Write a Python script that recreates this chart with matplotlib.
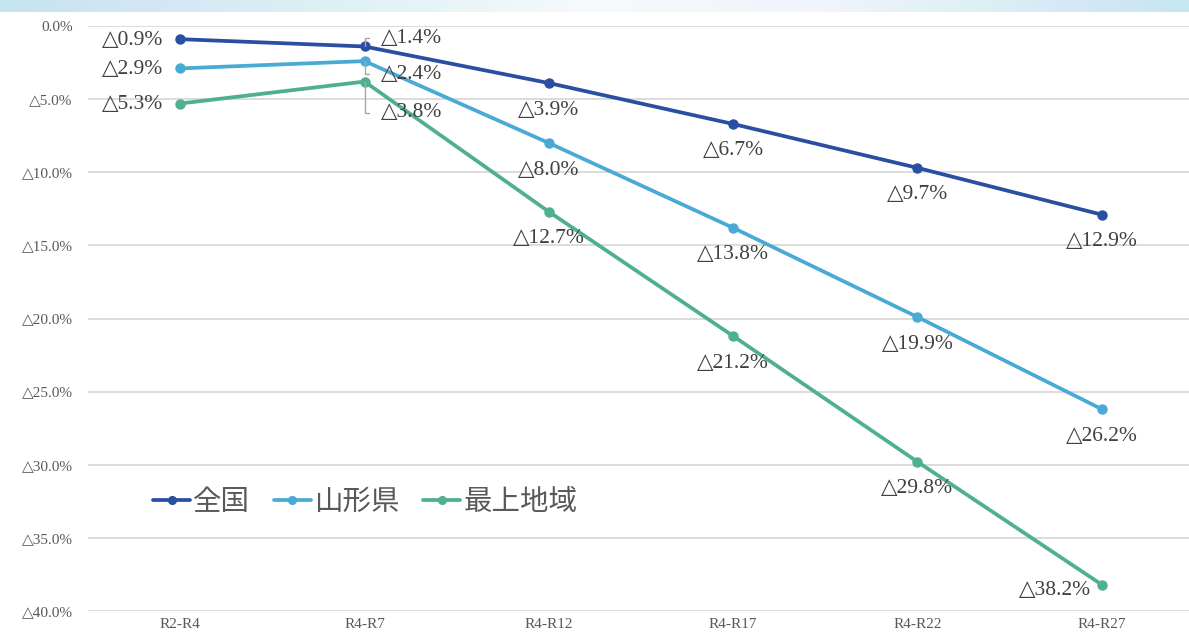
import numpy as np
import matplotlib
matplotlib.use("Agg")
import matplotlib.pyplot as plt
from matplotlib.colors import LinearSegmentedColormap

# Population change rate (%) by period
periods = ["R2-R4", "R4-R7", "R4-R12", "R4-R17", "R4-R22", "R4-R27"]
zenkoku = [-0.9, -1.4, -3.9, -6.7, -9.7, -12.9]
yamagata = [-2.9, -2.4, -8.0, -13.8, -19.9, -26.2]
mogami = [-5.3, -3.8, -12.7, -21.2, -29.8, -38.2]
series_names = ["全国", "山形県", "最上地域"]
y_ticks = [0, -5, -10, -15, -20, -25, -30, -35, -40]

colors = ["#2a4ea2", "#4aaad6", "#4fb08c"]
serif = ["Liberation Serif", "DejaVu Serif", "DejaVu Sans"]
cjk = ["Noto Sans CJK JP", "DejaVu Sans"]

W, H = 1189, 635
fig = plt.figure(figsize=(W / 100, H / 100), dpi=100)
fig.patch.set_facecolor("white")

# light gradient band across the top edge
band = fig.add_axes([0, 1 - 12 / H, 1, 12 / H])
band_cmap = LinearSegmentedColormap.from_list(
    "band",
    [(0.0, "#c4e4ee"), (0.12, "#d4e6f5"), (0.27, "#ddf0f3"), (0.5, "#f6fafd"),
     (0.7, "#f0f4fb"), (0.83, "#dcf0f4"), (0.9, "#d6e8f6"), (1.0, "#c6e6f0")])
band.imshow(np.linspace(0, 1, 400)[None, :], aspect="auto", cmap=band_cmap,
            extent=[0, 1, 0, 1])
band.axis("off")

left_px, right_px = 88, 1194
top_px, bot_px = 26, 611
ax = fig.add_axes([left_px / W, (H - bot_px) / H,
                   (right_px - left_px) / W, (bot_px - top_px) / H])
ax.set_facecolor("none")

x = np.arange(len(periods))
all_series = [zenkoku, yamagata, mogami]
for vals, c, name in zip(all_series, colors, series_names):
    ax.plot(x, vals, color=c, lw=2.7, marker="o", ms=6.5, label=name,
            zorder=3, solid_capstyle="round")

ax.set_xlim(-0.5, len(periods) - 0.5)
ax.set_ylim(-40, 0)
ax.set_yticks(y_ticks)
ax.set_yticklabels(["0.0%" if v == 0 else "△{:.1f}%".format(abs(v)) for v in y_ticks],
                   family=serif, fontsize=11, color="#595959")
ax.set_xticks(x)
ax.set_xticklabels(periods, family=serif, fontsize=11, color="#595959")
ax.tick_params(axis="y", length=0, pad=11)
ax.tick_params(axis="x", length=0, pad=5)
for s in ax.spines.values():
    s.set_visible(False)
ax.grid(axis="y", color="#d9d9d9", lw=1.3, zorder=0)
ax.set_axisbelow(True)


def fmt(v):
    return "△{:.1f}%".format(abs(v))


label_kw = dict(textcoords="offset pixels", family=serif, fontsize=15.5,
                color="#404040", va="center", zorder=4)

# first period: labels to the left of the points
for vals in all_series:
    ax.annotate(fmt(vals[0]), (0, vals[0]), xytext=(-17, -1), ha="right", **label_kw)

# second period: callouts with bracket leader lines
callout_dy = [8, -13, -31]
for vals, dy in zip(all_series, callout_dy):
    ax.annotate(fmt(vals[1]), (1, vals[1]), xytext=(16, dy), ha="left",
                arrowprops=dict(arrowstyle="-", color="#a6a6a6", lw=1.0,
                                connectionstyle="angle,angleA=0,angleB=90,rad=0",
                                shrinkA=6, shrinkB=0, relpos=(0, 0.5)),
                **label_kw)

# remaining periods: labels beneath the points
for vals in all_series:
    for i in range(2, len(periods)):
        off = (0, -27)
        if vals is mogami and i == len(periods) - 1:
            off = (-47, -6)
        ax.annotate(fmt(vals[i]), (i, vals[i]), xytext=off, ha="center", **label_kw)

leg = fig.legend(loc="center left", bbox_to_anchor=(153 / W, 1 - 502 / H),
                 ncol=3, frameon=False, borderpad=0, borderaxespad=0,
                 handlelength=1.3, handletextpad=0.12, columnspacing=0.82,
                 markerscale=0.85, prop=dict(family=cjk, size=20.5))
for t in leg.get_texts():
    t.set_color("#595959")

fig.savefig("out.png", dpi=100, facecolor="white")
